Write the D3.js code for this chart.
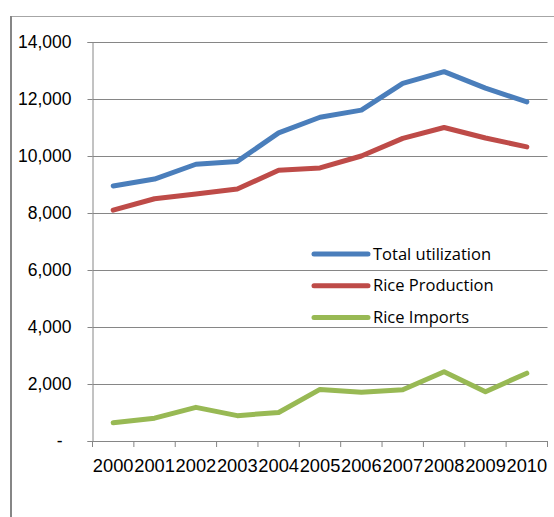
<!DOCTYPE html>
<html>
<head>
<meta charset="utf-8">
<script src="https://cdn.jsdelivr.net/npm/d3@7"></script>
<style>
  body { margin: 0; background: #fff; }
  svg { display: block; font-family: "Open Sans", sans-serif; }
</style>
</head>
<body>
<div id="chart"></div>
<script>
// Data
const years = ["2000", "2001", "2002", "2003", "2004", "2005", "2006", "2007", "2008", "2009", "2010"];
const totalUtilization = [8950, 9190, 9710, 9810, 10810, 11360, 11610, 12550, 12960, 12380, 11900];
const riceProduction = [8100, 8500, 8670, 8840, 9500, 9580, 10000, 10620, 11000, 10630, 10320];
const riceImports = [640, 800, 1180, 890, 1000, 1810, 1710, 1800, 2430, 1730, 2380];
const yTicks = [0, 2000, 4000, 6000, 8000, 10000, 12000, 14000];

const series = [
    { name: "Total utilization", values: totalUtilization, color: "#4a7ebb" },
    { name: "Rice Production", values: riceProduction, color: "#be4b48" },
    { name: "Rice Imports", values: riceImports, color: "#98b954" }
];

const W = 554, H = 517;
const plot = { left: 92.5, right: 547.5, top: 42, bottom: 441 };

const svg = d3.select("#chart").append("svg")
    .attr("width", W)
    .attr("height", H);

// Chart frame (top + left edges visible)
svg.append("line")
    .attr("x1", 11).attr("x2", W).attr("y1", 16.5).attr("y2", 16.5)
    .attr("stroke", "#a6a6a6").attr("stroke-width", 1);
svg.append("line")
    .attr("x1", 11).attr("x2", 11).attr("y1", 16).attr("y2", H)
    .attr("stroke", "#868686").attr("stroke-width", 2);

const x = d3.scaleBand()
    .domain(years)
    .range([plot.left, plot.right])
    .padding(0);

const y = d3.scaleLinear()
    .domain([0, 14000])
    .range([plot.bottom, plot.top]);

// Gridlines
svg.append("g")
    .attr("transform", `translate(${plot.left},0)`)
    .call(d3.axisLeft(y).tickValues(yTicks.slice(1)).tickSize(-(plot.right - plot.left)).tickFormat(""))
    .call(g => g.select(".domain").remove())
    .call(g => g.selectAll("line").attr("stroke", "#868686"));

// Y axis
const fmt = d3.format(",");
svg.append("g")
    .attr("transform", `translate(${plot.left},0)`)
    .call(d3.axisLeft(y).tickValues(yTicks).tickSize(5).tickPadding(16)
        .tickFormat(d => d === 0 ? "-" : fmt(d)))
    .call(g => g.select(".domain").attr("stroke", "#868686"))
    .call(g => g.selectAll("line").attr("stroke", "#868686"))
    .call(g => g.selectAll("text")
        .attr("fill", "#000")
        .style("font-size", "17.5px")
        .attr("dx", d => d === 0 ? -9 : 0));

// X axis
const xAxis = svg.append("g")
    .attr("transform", `translate(0,${plot.bottom})`)
    .call(d3.axisBottom(x).tickSize(0).tickPadding(18))
    .call(g => g.select(".domain").attr("stroke", "#868686"))
    .call(g => g.selectAll("text").attr("fill", "#000").style("font-size", "18.3px"));

// Category boundary tick marks
const bounds = years.map(d => x(d)).concat([plot.right]);
xAxis.selectAll(".bound")
    .data(bounds)
    .enter().append("line")
        .attr("class", "bound")
        .attr("x1", d => d).attr("x2", d => d)
        .attr("y1", 0).attr("y2", 6)
        .attr("stroke", "#868686");

// Lines
const line = d3.line()
    .x((d, i) => x(years[i]) + x.bandwidth() / 2)
    .y(d => y(d));

svg.selectAll(".series")
    .data(series)
    .enter().append("path")
        .attr("class", "series")
        .attr("d", d => line(d.values))
        .attr("fill", "none")
        .attr("stroke", d => d.color)
        .attr("stroke-width", 5)
        .attr("stroke-linejoin", "round")
        .attr("stroke-linecap", "round");

// Legend
const legend = svg.selectAll(".legend")
    .data(series)
    .enter().append("g")
        .attr("class", "legend")
        .attr("transform", (d, i) => `translate(313,${254 + i * 31.7})`);

legend.append("line")
    .attr("x1", 1).attr("x2", 55)
    .attr("stroke", d => d.color)
    .attr("stroke-width", 5)
    .attr("stroke-linecap", "round");

legend.append("text")
    .attr("x", 60)
    .attr("dy", "0.35em")
    .style("font-size", "16.5px")
    .attr("fill", "#000")
    .text(d => d.name);
</script>
</body>
</html>
